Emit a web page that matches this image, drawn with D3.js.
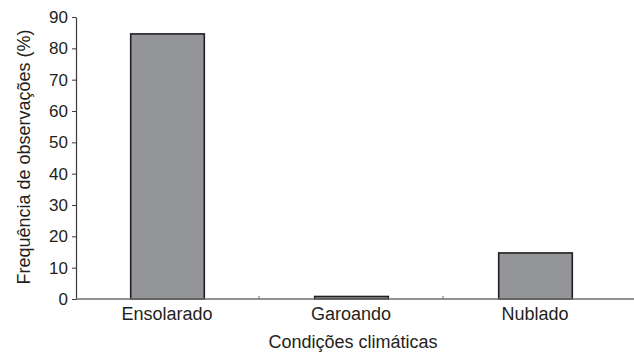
<!DOCTYPE html>
<html><head><meta charset="utf-8">
<script src="https://cdn.jsdelivr.net/npm/d3@7"></script>
<style>body{margin:0;background:#fff}svg{display:block}text{font-family:"Liberation Sans",Arial,sans-serif;fill:#231f20}</style>
</head><body><svg id="c" width="634" height="357"></svg>
<script>
const categories = ["Ensolarado", "Garoando", "Nublado"];
const values = [84.6, 0.8, 14.7];
const yTicks = [0, 10, 20, 30, 40, 50, 60, 70, 80, 90];
const yLabel = "Frequência de observações (%)";
const xLabel = "Condições climáticas";

const svg = d3.select("#c");
const x0 = 75, x1 = 627, yTop = 17, yBot = 299;
const x = d3.scaleBand().domain(categories).range([x0, x1]).paddingInner(0.6).paddingOuter(0.3);
const y = d3.scaleLinear().domain([0, 90]).range([yBot, yTop]);

// y axis
const ya = svg.append("g").attr("transform", `translate(${x0 + 1},0)`)
  .call(d3.axisLeft(y).tickValues(yTicks).tickSize(4).tickSizeOuter(0).tickPadding(4));
ya.select(".domain").attr("stroke", "#3a3a3a").attr("stroke-width", 1.2);
ya.selectAll(".tick line").attr("stroke", "#3a3a3a");
ya.selectAll("text").attr("font-size", null).style("font-size", "17px").attr("fill", "#231f20");
ya.attr("font-size", null).attr("font-family", null);

// bars
svg.append("g").selectAll("rect").data(categories).join("rect")
  .attr("x", d => x(d) + 0.5)
  .attr("width", x.bandwidth())
  .attr("y", (d, i) => y(values[i]))
  .attr("height", (d, i) => yBot - y(values[i]))
  .attr("fill", "#939598").attr("stroke", "#231f20").attr("stroke-width", 1.6);

// x axis
const xa = svg.append("g").attr("transform", `translate(0,${yBot})`);
xa.append("line").attr("x1", x0 + 1).attr("x2", 634).attr("stroke", "#6d6e71").attr("stroke-width", 1.5);
const step = x.step();
const bounds = categories.slice(1).map(c => x(c) - x.paddingInner() * step / 2);
xa.selectAll(".sep").data(bounds).join("line").attr("class", "sep")
  .attr("x1", d => d).attr("x2", d => d).attr("y1", 0).attr("y2", -3)
  .attr("stroke", "#6d6e71").attr("stroke-width", 1);
xa.selectAll(".cl").data(categories).join("text").attr("class", "cl")
  .attr("x", d => x(d) + x.bandwidth() / 2).attr("y", 21)
  .attr("text-anchor", "middle").style("font-size", "18px").text(d => d);

svg.append("text").attr("x", (x0 + x1) / 2 + 2).attr("y", 348)
  .attr("text-anchor", "middle").style("font-size", "18px").text(xLabel);
svg.append("text").attr("transform", `translate(30,${(yTop + yBot) / 2 - 1}) rotate(-90)`)
  .attr("text-anchor", "middle").style("font-size", "18px").text(yLabel);
</script></body></html>
